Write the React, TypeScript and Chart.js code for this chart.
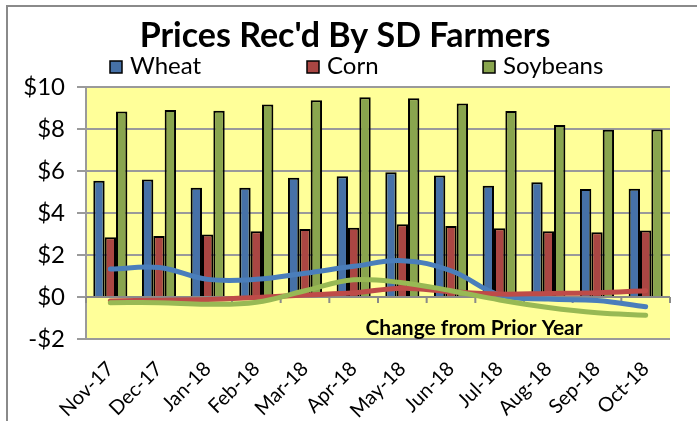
import React, { useEffect, useRef } from 'react';
import { Chart, registerables } from 'chart.js';

Chart.register(...registerables);

const months = ['Nov-17', 'Dec-17', 'Jan-18', 'Feb-18', 'Mar-18', 'Apr-18', 'May-18', 'Jun-18', 'Jul-18', 'Aug-18', 'Sep-18', 'Oct-18'];
const wheatPrice = [5.54, 5.59, 5.2, 5.2, 5.68, 5.75, 5.94, 5.78, 5.3, 5.46, 5.14, 5.16];
const cornPrice = [2.84, 2.9, 2.98, 3.13, 3.24, 3.3, 3.46, 3.38, 3.27, 3.13, 3.08, 3.17];
const soyPrice = [8.83, 8.9, 8.87, 9.17, 9.37, 9.51, 9.46, 9.22, 8.86, 8.19, 7.97, 7.98];
const wheatChange = [1.33, 1.4, 0.84, 0.84, 1.13, 1.46, 1.73, 1.25, 0.1, -0.1, -0.17, -0.46];
const cornChange = [-0.19, -0.15, -0.12, -0.02, 0.1, 0.2, 0.42, 0.25, 0.14, 0.17, 0.2, 0.3];
const soyChange = [-0.27, -0.27, -0.35, -0.25, 0.3, 0.82, 0.68, 0.3, -0.14, -0.5, -0.75, -0.87];
const yTicks = [-2, 0, 2, 4, 6, 8, 10];

const titleText = "Prices Rec'd By SD Farmers";
const noteText = 'Change from Prior Year';
const legendNames = ['Wheat', 'Corn', 'Soybeans'];

const FONT = 'Lato, "Open Sans", sans-serif';
const BAR_BLUE = '#4671A8';
const BAR_RED = '#AA4643';
const BAR_GREEN = '#89A54E';
const LINE_BLUE = '#4A7EBB';
const LINE_RED = '#BE4B48';
const LINE_GREEN = '#98B954';

const fmt = (v: number) => (v < 0 ? '-$' + Math.abs(v) : '$' + v);

export default function App() {
  const ref = useRef<HTMLCanvasElement>(null);

  useEffect(() => {
    const canvas = ref.current;
    if (!canvas) return;

    const overlay = {
      id: 'overlay',
      beforeDraw(chart: any) {
        const { ctx, chartArea } = chart;
        ctx.save();
        ctx.fillStyle = '#ffffff';
        ctx.fillRect(0, 0, chart.width, chart.height);
        ctx.strokeStyle = '#8a8a8a';
        ctx.lineWidth = 2;
        ctx.beginPath();
        ctx.moveTo(7, chart.height);
        ctx.lineTo(7, 6);
        ctx.lineTo(chart.width, 6);
        ctx.stroke();
        ctx.fillStyle = '#FFFF99';
        ctx.fillRect(chartArea.left, chartArea.top, chartArea.right - chartArea.left, chartArea.bottom - chartArea.top);
        ctx.restore();
      },
      beforeDatasetsDraw(chart: any) {
        const { ctx, chartArea, scales } = chart;
        const y0 = scales.y.getPixelForValue(0);
        ctx.save();
        ctx.strokeStyle = '#8a8a8a';
        ctx.lineWidth = 2;
        ctx.beginPath();
        ctx.moveTo(chartArea.left, y0);
        ctx.lineTo(chartArea.right, y0);
        for (let i = 0; i <= months.length; i++) {
          const x = scales.x.getPixelForValue(i - 0.5);
          ctx.moveTo(x, y0);
          ctx.lineTo(x, y0 + 6);
        }
        ctx.stroke();
        ctx.restore();
      },
      afterDraw(chart: any) {
        const { ctx } = chart;
        ctx.save();
        ctx.fillStyle = '#000';
        ctx.textBaseline = 'alphabetic';
        ctx.textAlign = 'center';
        ctx.font = `bold 34px ${FONT}`;
        ctx.fillText(titleText, 345, 47);

        const colors = [BAR_BLUE, BAR_RED, BAR_GREEN];
        const xs = [110, 307, 483];
        ctx.textAlign = 'left';
        ctx.font = `24px ${FONT}`;
        legendNames.forEach((name, i) => {
          ctx.fillStyle = colors[i];
          ctx.fillRect(xs[i], 61, 12, 12);
          ctx.strokeStyle = '#000';
          ctx.lineWidth = 1.5;
          ctx.strokeRect(xs[i], 61, 12, 12);
          ctx.fillStyle = '#000';
          ctx.fillText(name, xs[i] + 20, 74);
        });

        ctx.textAlign = 'center';
        ctx.font = `bold 21px ${FONT}`;
        ctx.fillText(noteText, 474, 335);
        ctx.restore();
      },
    };

    const lineBase = {
      type: 'line' as const,
      pointRadius: 0,
      borderWidth: 5,
      tension: 0.4,
      fill: false,
      borderCapStyle: 'round' as const,
      borderJoinStyle: 'round' as const,
    };
    const barBase = {
      type: 'bar' as const,
      borderColor: '#000',
      borderWidth: 2,
      categoryPercentage: 0.7,
      barPercentage: 1.0,
    };

    const chart = new Chart(canvas, {
      data: {
        labels: months,
        datasets: [
          { ...lineBase, label: 'Wheat change', data: wheatChange, borderColor: LINE_BLUE, order: 2 },
          { ...lineBase, label: 'Corn change', data: cornChange, borderColor: LINE_RED, order: 1 },
          { ...lineBase, label: 'Soybeans change', data: soyChange, borderColor: LINE_GREEN, order: 0 },
          { ...barBase, label: 'Wheat', data: wheatPrice, backgroundColor: BAR_BLUE, order: 3 },
          { ...barBase, label: 'Corn', data: cornPrice, backgroundColor: BAR_RED, order: 4 },
          { ...barBase, label: 'Soybeans', data: soyPrice, backgroundColor: BAR_GREEN, order: 5 },
        ],
      } as any,
      options: {
        animation: false,
        responsive: true,
        maintainAspectRatio: false,
        layout: { padding: { top: 87, right: 27, left: 0, bottom: 0 } },
        plugins: {
          legend: { display: false },
          title: { display: false },
          tooltip: { enabled: false },
        },
        scales: {
          x: {
            grid: { display: false, drawTicks: false },
            border: { display: false },
            ticks: {
              color: '#000',
              font: { family: FONT, size: 20 },
              minRotation: 45,
              maxRotation: 45,
              padding: 18,
              autoSkip: false,
            },
            afterFit(scale: any) {
              scale.height = 82;
            },
          },
          y: {
            min: -2,
            max: 10,
            afterBuildTicks(scale: any) {
              scale.ticks = yTicks.map((v) => ({ value: v }));
            },
            grid: { color: '#9a9a9a', lineWidth: 2, tickLength: 9, drawTicks: true },
            border: { display: true, color: '#9a9a9a', width: 2 },
            ticks: {
              color: '#000',
              font: { family: FONT, size: 24 },
              padding: 12,
              callback: (v: any) => fmt(Number(v)),
            },
            afterFit(scale: any) {
              scale.width = 86;
            },
          },
        },
      },
      plugins: [overlay],
    });

    return () => chart.destroy();
  }, []);

  return (
    <div style={{ position: 'fixed', left: 0, top: 0, width: 697, height: 421, background: '#fff' }}>
      <canvas ref={ref} />
    </div>
  );
}
